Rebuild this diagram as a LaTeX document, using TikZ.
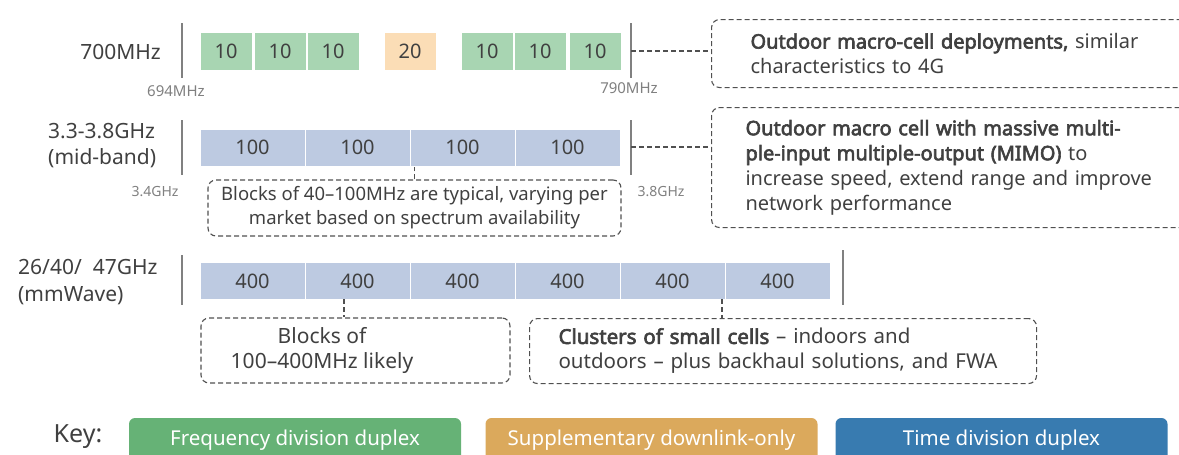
\documentclass[tikz,border=0pt]{standalone}
\usepackage{fontspec}
\setmainfont{Noto Sans}[AutoFakeBold=3]
\usetikzlibrary{positioning}
\definecolor{ink}{HTML}{404040}
\definecolor{mute}{HTML}{808080}
\definecolor{dash}{HTML}{505050}
\definecolor{fddfill}{HTML}{A8D5B2}
\definecolor{sdlfill}{HTML}{FBDDB6}
\definecolor{tddfill}{HTML}{BDCAE1}
\definecolor{fddkey}{HTML}{66B276}
\definecolor{sdlkey}{HTML}{DBA95C}
\definecolor{tddkey}{HTML}{387BB0}

\begin{document}
\begin{tikzpicture}[x=1pt, y=-1pt, inner sep=0, text=ink,
  rowlbl/.style={font=\fontsize{21}{26}\selectfont, align=left},
  blk/.style={font=\fontsize{20}{24}\selectfont, minimum height=37},
  fdd/.style={blk, fill=fddfill, minimum width=51},
  sdl/.style={blk, fill=sdlfill, minimum width=51},
  tdd/.style={blk, fill=tddfill, draw=white, line width=1pt, minimum width=105},
  edgebar/.style={draw=mute, line width=2pt},
  freq/.style={text=mute, font=\fontsize{15}{17}\selectfont},
  callout/.style={draw=dash, dash pattern=on 5pt off 3pt, line width=1.1pt, rounded corners=8},
  note/.style={callout, font=\fontsize{20}{25}\selectfont, align=left},
  link/.style={draw=dash, dash pattern=on 5pt off 3pt, line width=1.1pt},
  keybox/.style={rounded corners=6, text=white, minimum width=332, minimum height=44,
    font=\fontsize{20.5}{24}\selectfont}]
\useasboundingbox (0,0) rectangle (1179,455);

% 700MHz
\node[rowlbl, anchor=east] (r1) at (161,52) {700MHz};
\draw[edgebar] (182,23) -- (182,78);
\draw[edgebar] (631,23) -- (631,78);
\foreach \x/\k [count=\i] in {226/fdd, 280/fdd, 333/fdd, 410/sdl, 487/fdd, 540/fdd, 595/fdd}
  \node[\k] (a\i) at (\x,51.5) {\ifnum\i=4 20\else 10\fi};
\node[freq] (f1) at (176,91) {694MHz};
\node[freq] (f2) at (629,88) {790MHz};
\node[note, anchor=north west, minimum height=68, inner xsep=39, text width=440] (c1) at (711,19)
  {\textbf{Outdoor macro-cell deployments,} similar\\characteristics to 4G};
\coordinate (e1) at (631,51);
\draw[link] (e1) -- (c1.west |- e1);

% mid-band
\node[rowlbl, anchor=west] (r2) at (48,146) {3.3-3.8GHz\\(mid-band)};
\draw[edgebar] (182,120) -- (182,175);
\draw[edgebar] (631,120) -- (631,175);
\foreach \i in {1,...,4}
  \node[tdd] (m\i) at (147.5+105*\i,147.5) {100};
\node[freq, font=\fontsize{14}{16}\selectfont] (f3) at (155,192) {3.4GHz};
\node[freq, font=\fontsize{14}{16}\selectfont] (f4) at (661,192) {3.8GHz};
\node[note, anchor=north west, minimum height=120, inner xsep=34, text width=440] (c2) at (711,107)
  {\textbf{Outdoor macro cell with massive multi-}\\\textbf{ple-input multiple-output (MIMO)} to\\
   increase speed, extend range and improve\\network performance};
\coordinate (e2) at (631,147);
\draw[link] (e2) -- (c2.west |- e2);
\node[callout, align=center, minimum width=413, minimum height=56,
  font=\fontsize{18.5}{24}\selectfont] (c3) at (414.5,208)
  {Blocks of 40--100MHz are typical, varying per\\market based on spectrum availability};
\draw[link] (c3.north) -- (c3.north |- m3.south);

% mmWave
\node[rowlbl, anchor=west, font=\fontsize{21}{27}\selectfont] (r3) at (18,282) {26/40/\ \ 47GHz\\(mmWave)};
\draw[edgebar] (182,255) -- (182,305);
\draw[edgebar] (843,250) -- (843,305);
\foreach \i in {1,...,6}
  \node[tdd] (w\i) at (147.5+105*\i,281) {400};
\node[callout, minimum width=309, minimum height=65] (c4) at (355.5,350.5) {};
\node[note, draw=none, align=center, font=\fontsize{21}{25}\selectfont] (c4t) at (322,350.5)
  {Blocks of\\100--400MHz likely};
\node[note, anchor=north west, minimum height=65, inner xsep=29, text width=449,
  font=\fontsize{20.5}{25}\selectfont] (c5) at (529,318)
  {\textbf{Clusters of small cells} -- indoors and\\outdoors -- plus backhaul solutions, and FWA};
\coordinate (l4) at (344,299);
\coordinate (l5) at (722,299);
\draw[link] (l4) -- (l4 |- c4.north);
\draw[link] (l5) -- (l5 |- c5.north);

% key
\node[font=\fontsize{25}{28}\selectfont] (key) at (78,437) {Key:};
\node[keybox, fill=fddkey] (k1) at (295,440) {Frequency division duplex};
\node[keybox, fill=sdlkey] (k2) at (651.5,440) {Supplementary downlink-only};
\node[keybox, fill=tddkey] (k3) at (1001.5,440) {Time division duplex};
\end{tikzpicture}
\end{document}
